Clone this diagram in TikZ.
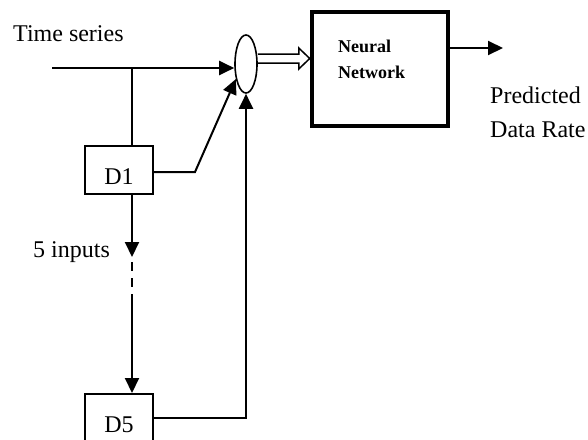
\documentclass[tikz,border=0pt]{standalone}
\usepackage{fontspec}
\setmainfont{Liberation Serif}
\usetikzlibrary{arrows.meta,calc,shapes.geometric}

\tikzset{
  wire/.style={line width=2pt},
  arr/.style={wire, -{Triangle[length=15pt,width=14pt]}},
  delaybox/.style={draw, line width=2pt, minimum width=68pt, inner sep=0pt,
                   text height=38pt, text depth=10pt, font=\fontsize{24}{28}\selectfont},
  lbl/.style={anchor=base west, inner sep=0pt, font=\fontsize{24}{28}\selectfont},
  nnlbl/.style={anchor=base west, inner sep=0pt, font=\fontsize{18}{22}\selectfont\bfseries},
}

\begin{document}
\begin{tikzpicture}[x=1pt,y=-1pt]
\useasboundingbox (0,0) rectangle (588,439);

% summing junction and network block
\node[draw, ellipse, line width=1.6pt, minimum width=22pt, minimum height=58pt, inner sep=0pt] (sum) at (246,64) {};
\node[draw, line width=4.5pt, minimum width=136pt, minimum height=114pt, inner sep=0pt] (nn) at (380,69) {};
\node[nnlbl] (nn1) at (338,52) {Neural};
\node[nnlbl] (nn2) at (338,78) {Network};

% delay elements
\node[delaybox, anchor=north] (d1) at (119,145) {D1};
\node[delaybox, anchor=north] (d5) at (119,393) {D5};

% labels
\node[lbl] (ts) at (13,41) {Time series};
\node[lbl] (ninp) at (33,257) {5 inputs};
\node[lbl] (pr1) at (490,103) {Predicted};
\node[lbl] (pr2) at (490,137) {Data Rate};

% helper points
\coordinate (in) at (52,68);
\coordinate (tap) at (132,68);
\coordinate (bend) at (195,172);
\coordinate (dtip) at (132,257);
\coordinate (dend) at (132,303);
\coordinate (out) at (503,48);
\coordinate (dbl) at (0,58.5);

% time series input into the junction
\draw[arr] (in) -- (sum.west |- in);
\draw[wire] (tap) -- (tap |- d1.north);

% D1 output into the junction
\draw[arr] (d1.east |- bend) -- (bend) -- (sum.236);

% chain of delays D1 ... D5
\draw[arr] (tap |- d1.south) -- (dtip);
\draw[wire, line width=2.4pt, dash pattern=on 9pt off 7pt] ([yshift=-5pt]dtip) -- (dend);
\draw[arr] (dend) -- (tap |- d5.north);

% D5 output into the junction
\draw[arr] (d5.east) -- (d5.east -| sum.south) -- (sum.south);

% hollow double arrow from junction to network
\draw[line width=1.5pt, line join=miter]
  ($(sum.east |- dbl)+(0,-4.5)$) -- ($(nn.west |- dbl)+(-11,-4.5)$)
  -- ($(nn.west |- dbl)+(-11,-10.5)$) -- (nn.west |- dbl)
  -- ($(nn.west |- dbl)+(-11,10.5)$) -- ($(nn.west |- dbl)+(-11,4.5)$)
  -- ($(sum.east |- dbl)+(0,4.5)$);

% network output
\draw[arr] (out -| nn.east) -- (out);
\end{tikzpicture}
\end{document}
